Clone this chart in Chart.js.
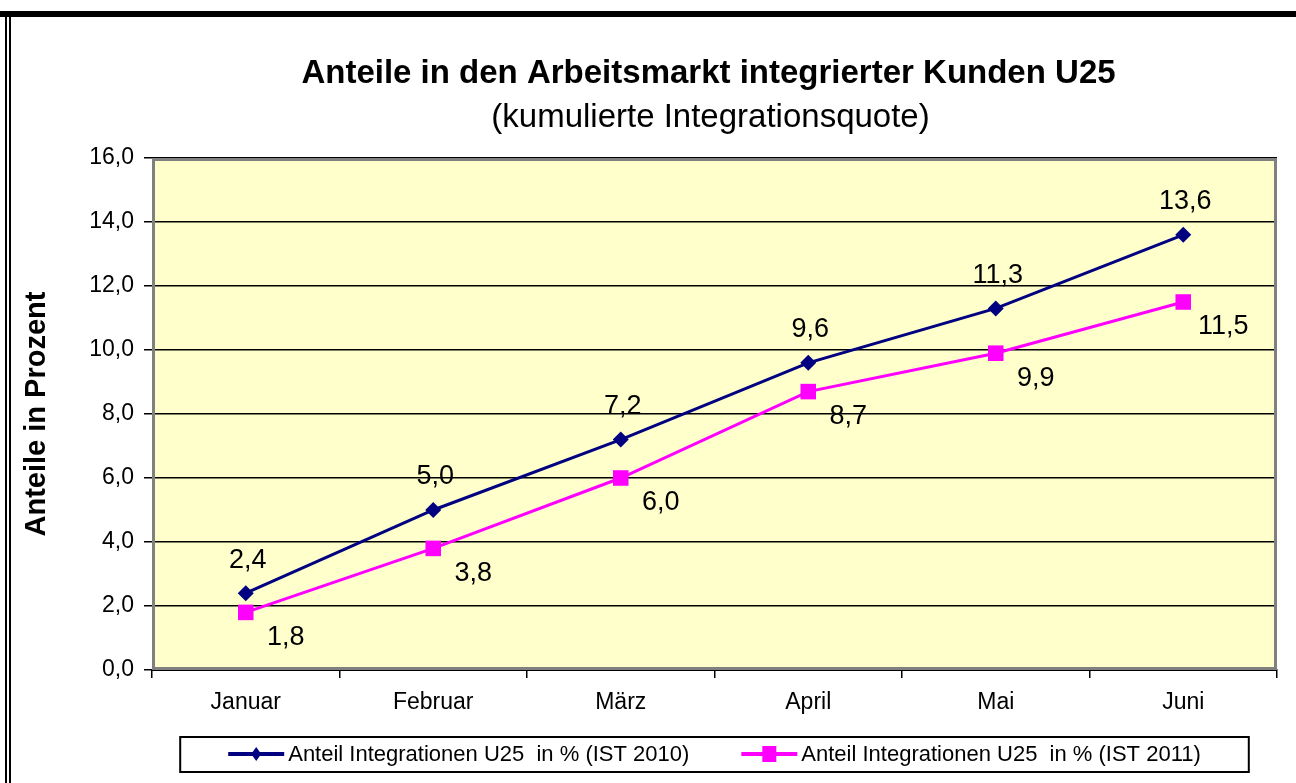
<!DOCTYPE html>
<html>
<head>
<meta charset="utf-8">
<title>Anteile in den Arbeitsmarkt integrierter Kunden U25</title>
<script src="https://cdn.jsdelivr.net/npm/chart.js@4.4.0/dist/chart.umd.min.js"></script>
<style>
    html, body { margin: 0; padding: 0; background: #fff; }
    #wrap { width: 1296px; height: 783px; position: relative; }
</style>
</head>
<body>
<div id="wrap"><canvas id="chart"></canvas></div>
<script>
// ---------------------------------------------------------
// Data
// ---------------------------------------------------------
const months = ['Januar', 'Februar', 'März', 'April', 'Mai', 'Juni'];
const ist2010 = [2.4, 5.0, 7.2, 9.6, 11.3, 13.6];
const ist2011 = [1.8, 3.8, 6.0, 8.7, 9.9, 11.5];
const seriesNames = [
    'Anteil Integrationen U25  in % (IST 2010)',
    'Anteil Integrationen U25  in % (IST 2011)'
];
const yMin = 0;
const yMax = 16;
const yStep = 2;

const titleText = 'Anteile in den Arbeitsmarkt integrierter Kunden U25';
const subtitleText = '(kumulierte Integrationsquote)';
const yTitle = 'Anteile in Prozent';

const FONT = "'Liberation Sans', Arial, sans-serif";

// German number format: 13.6 -> "13,6"
function fmt(v) {
    return Number(v).toFixed(1).replace('.', ',');
}

// ---------------------------------------------------------
// Plugins
// ---------------------------------------------------------

// white page, black frame, yellow plot background
const backgroundPlugin = {
    id: 'background',
    beforeDraw(chart) {
        const { ctx, width, height, chartArea: a } = chart;
        ctx.save();
        ctx.fillStyle = '#ffffff';
        ctx.fillRect(0, 0, width, height);
        // outer frame (top band + double left line)
        ctx.fillStyle = '#000000';
        ctx.fillRect(0, 11, width, 6);
        ctx.fillRect(5, 11, 2, height - 11);
        ctx.fillRect(9, 11, 2, height - 11);
        // plot area
        ctx.fillStyle = '#ffffcc';
        ctx.fillRect(a.left, a.top, a.right - a.left, a.bottom - a.top);
        ctx.restore();
    }
};

// grey border around plot area
const plotBorderPlugin = {
    id: 'plotBorder',
    beforeDatasetsDraw(chart) {
        const { ctx, chartArea: a } = chart;
        ctx.save();
        ctx.strokeStyle = '#808080';
        ctx.lineWidth = 3;
        ctx.strokeRect(a.left + 1.5, a.top + 1.5, a.right - a.left - 3, a.bottom - a.top - 3);
        ctx.restore();
    }
};

// value labels next to each point
const valueLabelPlugin = {
    id: 'valueLabels',
    afterDatasetsDraw(chart) {
        const { ctx } = chart;
        ctx.save();
        ctx.font = '27px ' + FONT;
        ctx.fillStyle = '#000000';
        ctx.textAlign = 'center';
        ctx.textBaseline = 'middle';
        chart.data.datasets.forEach((ds, i) => {
            const meta = chart.getDatasetMeta(i);
            meta.data.forEach((pt, j) => {
                ctx.fillText(fmt(ds.data[j]), pt.x + (ds.labelDx || 0), pt.y + (ds.labelDy || 0));
            });
        });
        ctx.restore();
    }
};

// title, subtitle and boxed legend
const headerLegendPlugin = {
    id: 'headerLegend',
    afterDraw(chart) {
        const { ctx, chartArea: a } = chart;
        const cx = (a.left + a.right) / 2;
        ctx.save();
        ctx.fillStyle = '#000000';
        ctx.textAlign = 'center';
        ctx.textBaseline = 'middle';
        ctx.font = 'bold 33px ' + FONT;
        ctx.fillText(titleText, cx - 6, 74);
        ctx.font = '33px ' + FONT;
        ctx.fillText(subtitleText, cx - 4, 118);

        // legend
        ctx.font = '22px ' + FONT;
        const lineW = 56, gap = 4, itemGap = 52, pad = 48;
        const items = chart.data.datasets.map(ds => ({
            ds, w: lineW + gap + ctx.measureText(ds.label).width
        }));
        const total = items.reduce((s, it) => s + it.w, 0) + itemGap * (items.length - 1);
        const ly = 754;
        let x = cx - total / 2;

        ctx.strokeStyle = '#000000';
        ctx.lineWidth = 2;
        ctx.strokeRect(x - pad, ly - 17, total + pad * 2, 35);

        items.forEach(it => {
            const ds = it.ds;
            ctx.strokeStyle = ds.borderColor;
            ctx.lineWidth = 4;
            ctx.beginPath();
            ctx.moveTo(x, ly);
            ctx.lineTo(x + lineW, ly);
            ctx.stroke();
            const mx = x + lineW / 2;
            ctx.fillStyle = ds.pointBackgroundColor;
            ctx.beginPath();
            if (ds.pointStyle === 'rectRot') {
                ctx.moveTo(mx - 5, ly);
                ctx.lineTo(mx, ly - 7);
                ctx.lineTo(mx + 5, ly);
                ctx.lineTo(mx, ly + 7);
                ctx.closePath();
            } else {
                ctx.rect(mx - 7, ly - 8, 14, 16);
            }
            ctx.fill();
            ctx.fillStyle = '#000000';
            ctx.textAlign = 'left';
            ctx.fillText(ds.label, x + lineW + gap, ly + 1);
            x += it.w + itemGap;
        });
        ctx.restore();
    }
};

// ---------------------------------------------------------
// Chart
// ---------------------------------------------------------
new Chart(document.getElementById('chart'), {
    type: 'line',
    data: {
        labels: months,
        datasets: [
            {
                label: seriesNames[0],
                data: ist2010,
                borderColor: '#000080',
                backgroundColor: '#000080',
                pointBackgroundColor: '#000080',
                pointBorderColor: '#000080',
                pointStyle: 'rectRot',
                pointRadius: 8,
                pointBorderWidth: 0,
                borderWidth: 3,
                tension: 0,
                labelDx: 2,
                labelDy: -33
            },
            {
                label: seriesNames[1],
                data: ist2011,
                borderColor: '#ff00ff',
                backgroundColor: '#ff00ff',
                pointBackgroundColor: '#ff00ff',
                pointBorderColor: '#ff00ff',
                pointStyle: 'rect',
                pointRadius: 11,
                pointBorderWidth: 0,
                borderWidth: 3,
                tension: 0,
                labelDx: 40,
                labelDy: 25
            }
        ]
    },
    options: {
        responsive: true,
        maintainAspectRatio: false,
        animation: false,
        layout: {
            padding: { top: 158, left: 20, right: 19, bottom: 53 }
        },
        plugins: {
            legend: { display: false },
            title: { display: false },
            tooltip: { enabled: false }
        },
        scales: {
            x: {
                type: 'category',
                offset: true,
                afterFit(scale) { scale.height = 60; },
                grid: {
                    offset: true,
                    drawOnChartArea: false,
                    drawTicks: true,
                    tickLength: 8,
                    color: '#000000',
                    lineWidth: 1.5
                },
                border: { display: true, color: '#000000', width: 2 },
                ticks: {
                    color: '#000000',
                    padding: 11,
                    font: { family: FONT, size: 23 }
                }
            },
            y: {
                min: yMin,
                max: yMax,
                afterFit(scale) { scale.width = 132; },
                grid: {
                    color: '#000000',
                    lineWidth: 1.5,
                    tickLength: 8,
                    drawTicks: true
                },
                border: { display: false },
                ticks: {
                    stepSize: yStep,
                    color: '#000000',
                    padding: 10,
                    font: { family: FONT, size: 23 },
                    callback: v => fmt(v)
                },
                title: {
                    display: true,
                    text: yTitle,
                    color: '#000000',
                    padding: { top: 0, bottom: 0 },
                    font: { family: FONT, size: 29, weight: 'bold' }
                }
            }
        }
    },
    plugins: [backgroundPlugin, plotBorderPlugin, valueLabelPlugin, headerLegendPlugin]
});
</script>
</body>
</html>
